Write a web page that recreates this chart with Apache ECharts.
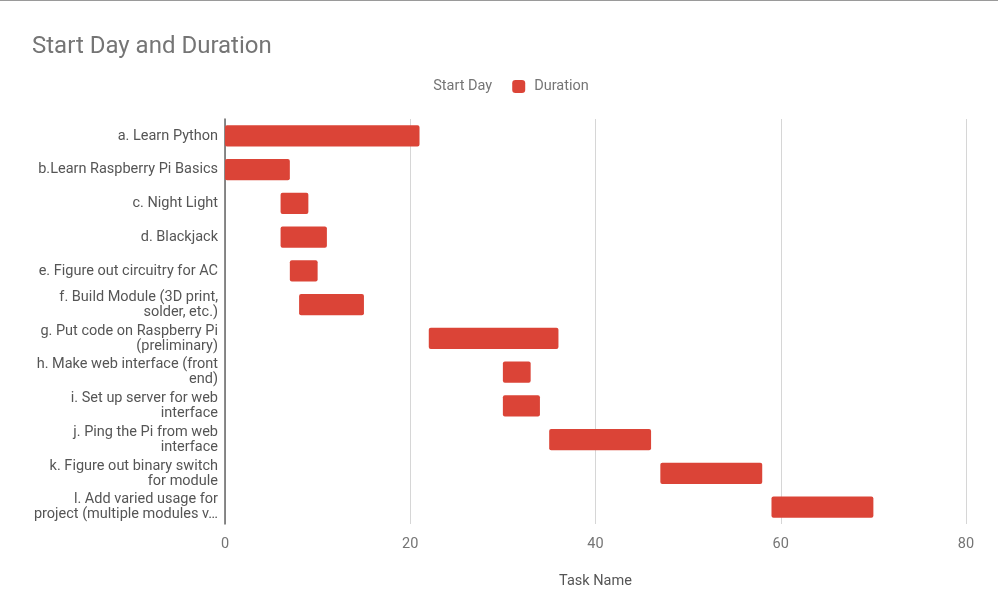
<!DOCTYPE html>
<html>
<head>
<meta charset="utf-8">
<script src="https://cdn.jsdelivr.net/npm/echarts@6/dist/echarts.min.js"></script>
<style>
html,body{margin:0;padding:0;background:#fff;}
#topline{position:absolute;left:0;top:0;width:998px;height:1px;background:#9a9a9a;}
#chart{width:1000px;height:594px;}
</style>
</head>
<body>
<div id="chart"></div>
<div id="topline"></div>
<script>
const tasks = [
  "a. Learn Python",
  "b.Learn Raspberry Pi Basics",
  "c. Night Light",
  "d. Blackjack",
  "e. Figure out circuitry for AC",
  "f. Build Module (3D print,\nsolder, etc.)",
  "g. Put code on Raspberry Pi\n(preliminary)",
  "h. Make web interface (front\nend)",
  "i. Set up server for web\ninterface",
  "j. Ping the Pi from web\ninterface",
  "k. Figure out binary switch\nfor module",
  "l. Add varied usage for\nproject (multiple modules v\u2026"
];
const startDay = [0, 0, 6, 6, 7, 8, 22, 30, 30, 35, 47, 59];
const duration = [21, 7, 3, 5, 3, 7, 14, 3, 4, 11, 11, 11];
const xTicks = [0, 20, 40, 60, 80];

const chart = echarts.init(document.getElementById('chart'));
const font = 'Roboto, "Noto Sans", sans-serif';
chart.setOption({
  animation: false,
  textStyle: {fontFamily: font},
  title: {
    text: 'Start Day and Duration',
    left: 27, top: 30,
    textStyle: {fontFamily: font, fontSize: 24, fontWeight: 'normal', color: '#757575'}
  },
  legend: {
    top: 74, left: 'center',
    itemWidth: 13, itemHeight: 13, itemGap: 20,
    textStyle: {fontFamily: font, fontSize: 14.5, color: '#757575', padding: [0, 0, 0, 4]},
    data: [
      {name: 'Start Day', icon: 'rect', itemStyle: {opacity: 0}},
      {name: 'Duration', icon: 'roundRect'}
    ]
  },
  grid: {left: 225, right: 34, top: 119, bottom: 70, containLabel: false},
  xAxis: {
    type: 'value', min: xTicks[0], max: xTicks[xTicks.length - 1], interval: xTicks[1] - xTicks[0],
    name: 'Task Name', nameLocation: 'middle', nameGap: 50,
    nameTextStyle: {fontFamily: font, fontSize: 14.5, color: '#555'},
    axisLine: {show: false}, axisTick: {show: false},
    axisLabel: {fontFamily: font, fontSize: 14.5, color: '#757575', margin: 13},
    splitLine: {lineStyle: {color: '#d6d6d6', width: 1}}
  },
  yAxis: {
    type: 'category', data: tasks, inverse: true,
    axisLine: {lineStyle: {color: '#666', width: 1.5}},
    axisTick: {show: false},
    axisLabel: {fontFamily: font, fontSize: 14.5, color: '#555', margin: 7, lineHeight: 15, align: 'right'}
  },
  series: [
    {
      name: 'Start Day', type: 'bar', stack: 'g', data: startDay,
      itemStyle: {color: 'rgba(0,0,0,0)'},
      barCategoryGap: '37%'
    },
    {
      name: 'Duration', type: 'bar', stack: 'g', data: duration,
      itemStyle: {color: '#db4437', borderRadius: 2},
      barCategoryGap: '37%'
    }
  ]
});
</script>
</body>
</html>
